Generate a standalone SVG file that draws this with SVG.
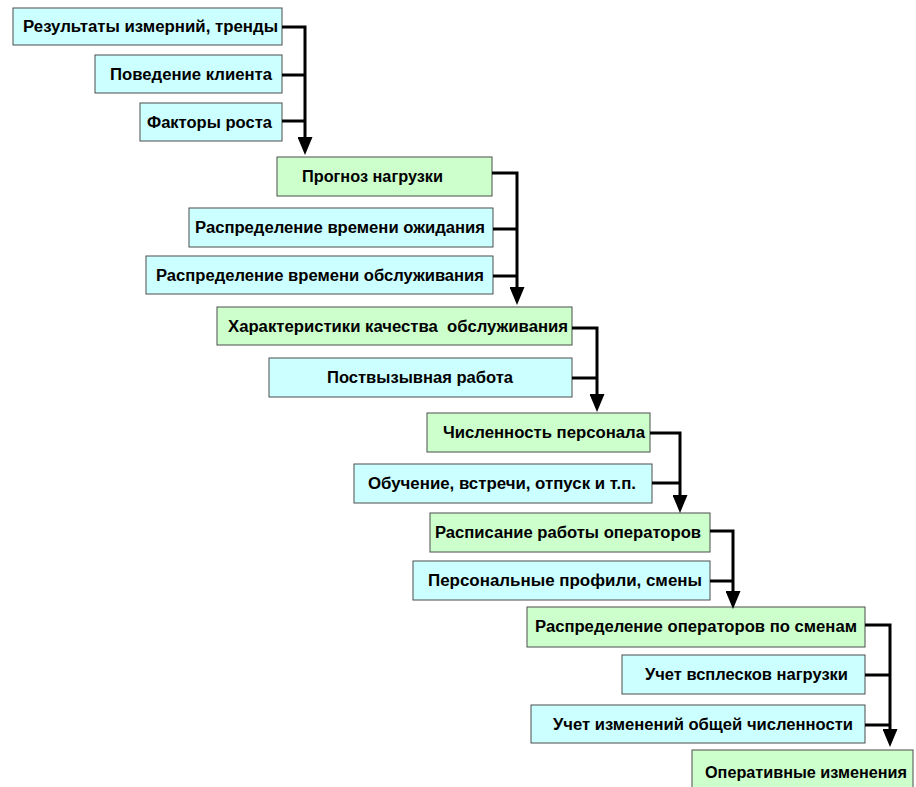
<svg xmlns="http://www.w3.org/2000/svg" width="916" height="787" viewBox="0 0 916 787">
<style>
  .in rect { fill: #CCFFFF; stroke: #4d4d4d; stroke-width: 1; }
  .pr rect { fill: #CCFFCC; stroke: #4d4d4d; stroke-width: 1; }
  text { font-family: "Liberation Sans", Arial, sans-serif; font-weight: bold; font-size: 16px; fill: #000; white-space: pre; }
  .conn path { fill: none; stroke: #000; stroke-width: 3; stroke-linejoin: miter; }
</style>
<defs>
  <marker id="arr" viewBox="0 0 18 15" markerWidth="18" markerHeight="15" refX="8" refY="7.5" orient="auto" markerUnits="userSpaceOnUse">
    <path d="M0,0 L18,7.5 L0,15 z" fill="#000"/>
  </marker>
</defs>
<rect width="916" height="787" fill="#fff"/>

<g id="n1" class="in"><rect x="13" y="8" width="269" height="37"/><text x="23" y="32" textLength="255" lengthAdjust="spacingAndGlyphs">Результаты измерний, тренды</text></g>
<g id="n2" class="in"><rect x="95" y="55" width="187" height="38"/><text x="110" y="80" textLength="162" lengthAdjust="spacingAndGlyphs">Поведение клиента</text></g>
<g id="n3" class="in"><rect x="140" y="103" width="142" height="38"/><text x="147" y="128" textLength="125" lengthAdjust="spacingAndGlyphs">Факторы роста</text></g>
<g id="n4" class="pr"><rect x="277" y="157" width="215" height="39"/><text x="302" y="182" textLength="141" lengthAdjust="spacingAndGlyphs">Прогноз нагрузки</text></g>
<g id="n5" class="in"><rect x="189" y="208" width="304" height="39"/><text x="195" y="233" textLength="290" lengthAdjust="spacingAndGlyphs">Распределение времени ожидания</text></g>
<g id="n6" class="in"><rect x="146" y="256" width="347" height="38"/><text x="156" y="281" textLength="328" lengthAdjust="spacingAndGlyphs">Распределение времени обслуживания</text></g>
<g id="n7" class="pr"><rect x="217" y="307" width="355" height="38"/><text x="228" y="332" textLength="340" lengthAdjust="spacingAndGlyphs" xml:space="preserve">Характеристики качества  обслуживания</text></g>
<g id="n8" class="in"><rect x="269" y="358" width="303" height="39"/><text x="327" y="383" textLength="186" lengthAdjust="spacingAndGlyphs">Поствызывная работа</text></g>
<g id="n9" class="pr"><rect x="427" y="413" width="223" height="39"/><text x="443" y="438" textLength="202" lengthAdjust="spacingAndGlyphs">Численность персонала</text></g>
<g id="n10" class="in"><rect x="354" y="464" width="298" height="39"/><text x="368" y="489" textLength="268" lengthAdjust="spacingAndGlyphs">Обучение, встречи, отпуск и т.п.</text></g>
<g id="n11" class="pr"><rect x="430" y="513" width="280" height="39"/><text x="435" y="538" textLength="266" lengthAdjust="spacingAndGlyphs">Расписание работы операторов</text></g>
<g id="n12" class="in"><rect x="413" y="561" width="297" height="39"/><text x="428" y="586" textLength="274" lengthAdjust="spacingAndGlyphs">Персональные профили, смены</text></g>
<g id="n13" class="pr"><rect x="527" y="607" width="338" height="40"/><text x="535" y="632" textLength="322" lengthAdjust="spacingAndGlyphs">Распределение операторов по сменам</text></g>
<g id="n14" class="in"><rect x="622" y="655" width="243" height="39"/><text x="645" y="680" textLength="203" lengthAdjust="spacingAndGlyphs">Учет всплесков нагрузки</text></g>
<g id="n15" class="in"><rect x="531" y="705" width="334" height="38"/><text x="553" y="730" textLength="300" lengthAdjust="spacingAndGlyphs">Учет изменений общей численности</text></g>
<g id="n16" class="pr"><rect x="692" y="750" width="221" height="50"/><text x="705" y="778" textLength="202" lengthAdjust="spacingAndGlyphs">Оперативные изменения</text></g>

<g id="connectors" class="conn">
  <path d="M282,27 H305 V145" marker-end="url(#arr)"/>
  <path d="M282,75 H305"/>
  <path d="M282,121 H305"/>
  <path d="M492,173 H517 V295" marker-end="url(#arr)"/>
  <path d="M493,229 H517"/>
  <path d="M493,276 H517"/>
  <path d="M572,328 H597 V402" marker-end="url(#arr)"/>
  <path d="M572,378 H597"/>
  <path d="M650,433 H680 V503" marker-end="url(#arr)"/>
  <path d="M652,483 H680"/>
  <path d="M710,531 H733 V599" marker-end="url(#arr)"/>
  <path d="M710,581 H733"/>
  <path d="M865,625 H890 V737" marker-end="url(#arr)"/>
  <path d="M865,675 H890"/>
  <path d="M865,725 H890"/>
</g>
</svg>
